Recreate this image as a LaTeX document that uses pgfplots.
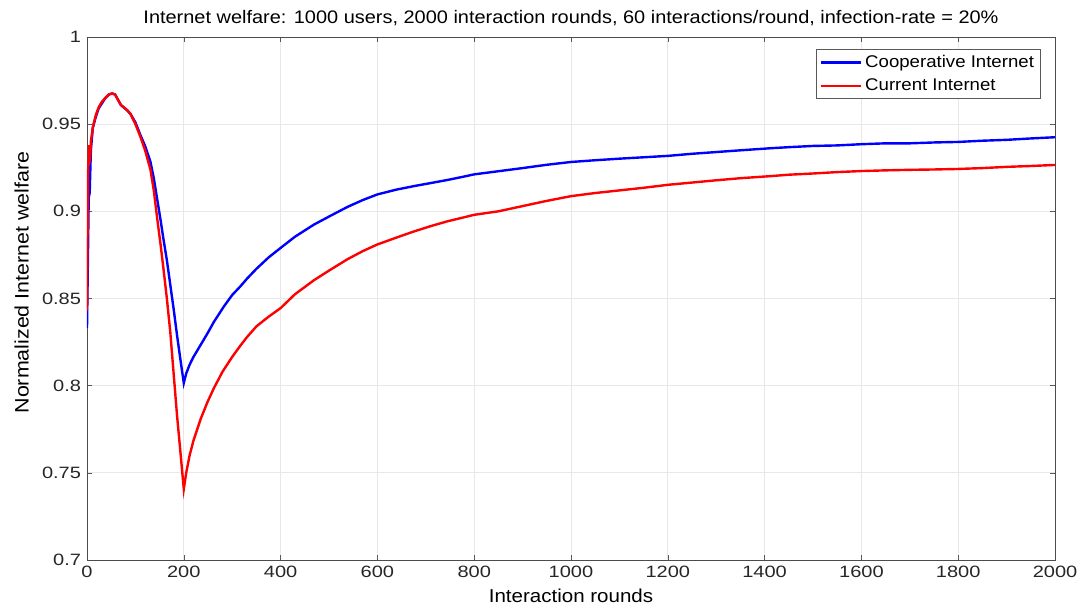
\documentclass[border=0pt]{standalone}
\usepackage{pgfplots}
\pgfplotsset{compat=1.18}
\usepackage{fontspec}
\setmainfont{Liberation Sans}[FakeStretch=1.1]
\newfontfamily\tickfont{Liberation Sans}[FakeStretch=1.22]
\usetikzlibrary{calc}
\begin{document}
\begin{tikzpicture}
\begin{axis}[
  scale only axis,
  width=726pt, height=392.25pt,
  xmin=0, xmax=2000, ymin=0.7, ymax=1,
  xtick={0,200,...,2000},
  ytick={0.7,0.75,0.8,0.85,0.9,0.95,1},
  yticklabels={0.7,0.75,0.8,0.85,0.9,0.95,1},
  xticklabels={0,200,400,600,800,1000,1200,1400,1600,1800,2000},
  tick align=inside,
  major tick length=4pt,
  tick style={gray!70!black, line width=0.4pt},
  axis line style={gray!60!black, line width=0.6pt},
  grid=major,
  major grid style={gray!18, line width=0.5pt},
  ticklabel style={font=\tickfont\fontsize{12.3}{14}\selectfont, color=black!85},
  xticklabel style={yshift=-1pt},
  yticklabel style={xshift=-1pt},
  title={Internet welfare: 1000 users, 2000 interaction rounds, 60 interactions/round, infection-rate = 20\%},
  title style={font=\fontsize{13.6}{15}\selectfont, yshift=-1pt},
  xlabel={Interaction rounds},
  ylabel={Normalized Internet welfare},
  xlabel style={font=\fontsize{14}{16}\selectfont, yshift=-2pt},
  ylabel style={font=\fontsize{14.6}{16}\selectfont, yshift=3pt, xshift=12pt},
  legend style={at={(0.9855,0.977)}, anchor=north east, draw=gray!70!black, line width=0.5pt,
    font=\fontsize{12.7}{14}\selectfont, row sep=3pt, inner xsep=3pt, inner ysep=2.5pt},
  legend cell align=left,
  legend image post style={line width=2pt},
  legend image code/.code={\draw[#1] (0cm,0cm) -- (1.05cm,0cm);},
]
\addplot[color={rgb,255:red,0;green,0;blue,255}, line width=1.8pt] coordinates {
(0,0.833)(2,0.875)(4,0.918)(6,0.915)(8,0.935)(12,0.948)(18,0.954)(24,0.959)(31,0.962)(38,0.965)(45,0.967)(52,0.9676)(58,0.967)(64,0.964)(70,0.961)(76,0.9596)(83,0.958)(90,0.9558)(100,0.951)(110,0.944)(120,0.9375)(131,0.9285)(138,0.919)(145,0.907)(152,0.895)(158,0.884)(165,0.872)(172,0.858)(179,0.844)(186,0.829)(193,0.815)(200,0.8015)
(205,0.807)(212,0.812)(220,0.8165)(234,0.823)(250,0.8305)(262,0.8365)(283,0.8455)(300,0.852)(317,0.857)(331,0.8615)(350,0.867)(375,0.8735)(400,0.879)(430,0.8855)(469,0.8924)(500,0.897)(538,0.9025)(570,0.9065)(600,0.9097)(640,0.9125)(676,0.9145)(710,0.9162)(745,0.918)(775,0.9197)(800,0.9212)(850,0.923)(900,0.9248)(950,0.9267)(1000,0.9283)(1050,0.9293)(1100,0.9302)(1150,0.931)(1200,0.9318)(1250,0.933)(1300,0.934)(1350,0.935)(1413,0.9362)(1450,0.9368)(1500,0.9375)(1550,0.9378)(1600,0.9385)(1650,0.939)(1700,0.939)(1750,0.9395)(1800,0.9398)(1850,0.9405)(1900,0.941)(1950,0.9418)(2000,0.9425)
};
\addlegendentry{Cooperative Internet}
\addplot[color={rgb,255:red,255;green,0;blue,0}, line width=1.8pt] coordinates {
(0,0.843)(2,0.92)(4,0.938)(6,0.928)(8,0.94)(12,0.948)(18,0.955)(24,0.9596)(31,0.963)(38,0.965)(45,0.967)(52,0.9676)(58,0.967)(64,0.964)(70,0.961)(76,0.9596)(83,0.958)(90,0.9558)(100,0.950)(110,0.943)(120,0.935)(131,0.924)(138,0.912)(145,0.896)(152,0.881)(158,0.867)(165,0.850)(172,0.831)(179,0.807)(186,0.783)(193,0.762)(200,0.7407)
(205,0.750)(212,0.760)(220,0.7685)(235,0.781)(248,0.790)(262,0.7985)(280,0.808)(300,0.8165)(317,0.823)(331,0.828)(350,0.834)(375,0.8395)(400,0.8445)(430,0.8525)(469,0.8605)(500,0.866)(538,0.8725)(570,0.8772)(600,0.881)(640,0.885)(676,0.8885)(710,0.8915)(745,0.8943)(775,0.8963)(800,0.898)(850,0.9)(900,0.903)(950,0.906)(1000,0.9087)(1050,0.9105)(1100,0.912)(1150,0.9135)(1200,0.9152)(1250,0.9165)(1300,0.9178)(1350,0.919)(1413,0.9202)(1450,0.921)(1500,0.9217)(1550,0.9225)(1600,0.9231)(1650,0.9235)(1700,0.9238)(1750,0.924)(1800,0.9243)(1850,0.9248)(1900,0.9255)(1950,0.926)(2000,0.9266)
};
\addlegendentry{Current Internet}
\end{axis}
\pgfresetboundingbox
\path[use as bounding box] ($(current axis.south west)+(-65.25pt,-36pt)$) rectangle ($(current axis.north east)+(17.25pt,27.75pt)$);
\end{tikzpicture}
\end{document}
